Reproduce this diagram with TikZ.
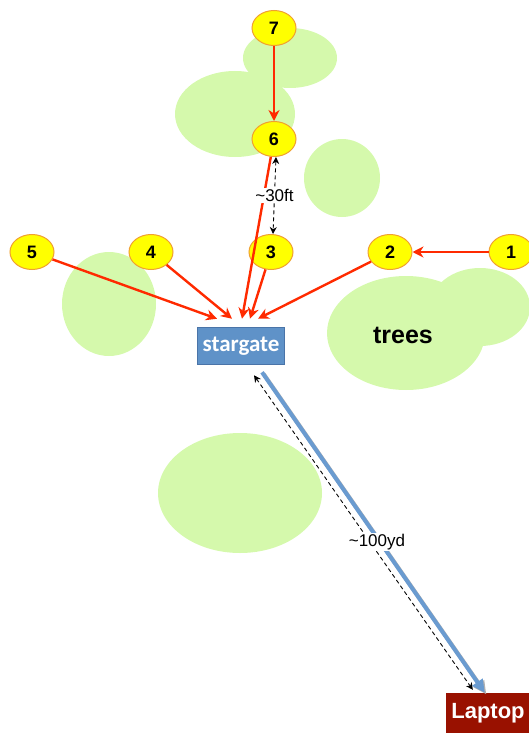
\documentclass[tikz,border=0pt]{standalone}
\usepackage{fontspec}
\setmainfont{Liberation Sans}
\newfontfamily\gatefont{Carlito}
\usetikzlibrary{arrows.meta,shapes.geometric}

\definecolor{treegreen}{HTML}{D5F9AC}
\definecolor{spotyellow}{HTML}{FFFF00}
\definecolor{spotrim}{HTML}{F0A030}
\definecolor{walkred}{HTML}{FF2A00}
\definecolor{gateblue}{HTML}{5F92C8}
\definecolor{gaterim}{HTML}{4A74A8}
\definecolor{laptopred}{HTML}{991100}
\definecolor{linkblue}{HTML}{6A9BD0}

\begin{document}
\begin{tikzpicture}[
  x=1pt, y=-1pt, >=Stealth,
  spot/.style={ellipse, draw=spotrim, fill=spotyellow, line width=1pt, minimum width=44pt, minimum height=35pt, inner sep=0pt, font=\fontsize{18}{18}\selectfont\bfseries},
  gate/.style={rectangle, draw=gaterim, fill=gateblue, line width=1.5pt, minimum width=87pt, minimum height=37pt, inner sep=0pt, text=white, font=\gatefont\bfseries\fontsize{23}{23}\selectfont},
  laptop/.style={rectangle, fill=laptopred, minimum width=84pt, minimum height=40pt, inner sep=0pt, text=white, font=\bfseries\fontsize{22}{22}\selectfont},
  walk/.style={->, draw=walkred, line width=2.4pt, >={Stealth[length=11pt,width=11pt]}},
  dist/.style={<->, dashed, line width=0.9pt, dash pattern=on 4pt off 3pt, >={Stealth[length=7pt,width=7pt]}},
  tag/.style={fill=white, inner sep=1.5pt, font=\fontsize{17}{17}\selectfont}
]
  \useasboundingbox (0,0) rectangle (529,733);

  % trees
  \fill[treegreen] (290,58) ellipse (47pt and 30pt);
  \fill[treegreen] (235,114) ellipse (60pt and 43pt);
  \fill[treegreen] (342,178) ellipse (38pt and 39pt);
  \fill[treegreen] (109,304) ellipse (47pt and 52pt);
  \fill[treegreen] (480,307) ellipse (50pt and 39pt);
  \fill[treegreen] (406,333) ellipse (79pt and 57pt);
  \fill[treegreen] (240,493) ellipse (82pt and 60pt);
  \node[font=\bfseries\fontsize{25}{25}\selectfont] (trees) at (403,335) {trees};

  % spots
  \node[spot] (s7) at (274,28) {7};
  \node[spot] (s6) at (274,139) {6};
  \node[spot] (s5) at (32,252) {5};
  \node[spot] (s4) at (151,252) {4};
  \node[spot] (s3) at (271,252) {3};
  \node[spot] (s2) at (390,252) {2};
  \node[spot] (s1) at (511,252) {1};

  \node[gate] (sg) at (241,346) {stargate};
  \node[laptop] (lt) at (488,713) {Laptop};

  % walking path
  \draw[walk] (s7) -- (s6);
  \draw[walk] (s1) -- (s2);
  \draw[walk] (s5) -- ([xshift=-24pt,yshift=8pt]sg.north);
  \draw[walk] (s4) -- ([xshift=-9pt,yshift=8pt]sg.north);
  \draw[walk] (s6) -- ([xshift=1pt,yshift=8pt]sg.north);
  \draw[walk] (s3) -- ([xshift=9pt,yshift=8pt]sg.north);
  \draw[walk] (s2) -- ([xshift=17pt,yshift=8pt]sg.north);

  % distances
  \draw[dist] ([xshift=2pt]s6.south) -- node[tag]{\textasciitilde30ft} ([xshift=2pt]s3.north);

  \draw[gray!60, line width=4pt, -{Triangle[length=13pt,width=12pt]}] ([xshift=22.5pt,yshift=-8.5pt]sg.south) -- ([xshift=40.5pt,yshift=-1.5pt]lt.north west);
  \draw[linkblue, line width=4pt, -{Triangle[length=13pt,width=12pt]}] ([xshift=21pt,yshift=-7pt]sg.south) -- ([xshift=39pt]lt.north west);
  \draw[dist] ([xshift=13pt,yshift=-10pt]sg.south) -- node[tag, pos=0.53, xshift=7pt]{\textasciitilde100yd} ([xshift=27pt,yshift=3pt]lt.north west);
\end{tikzpicture}
\end{document}
